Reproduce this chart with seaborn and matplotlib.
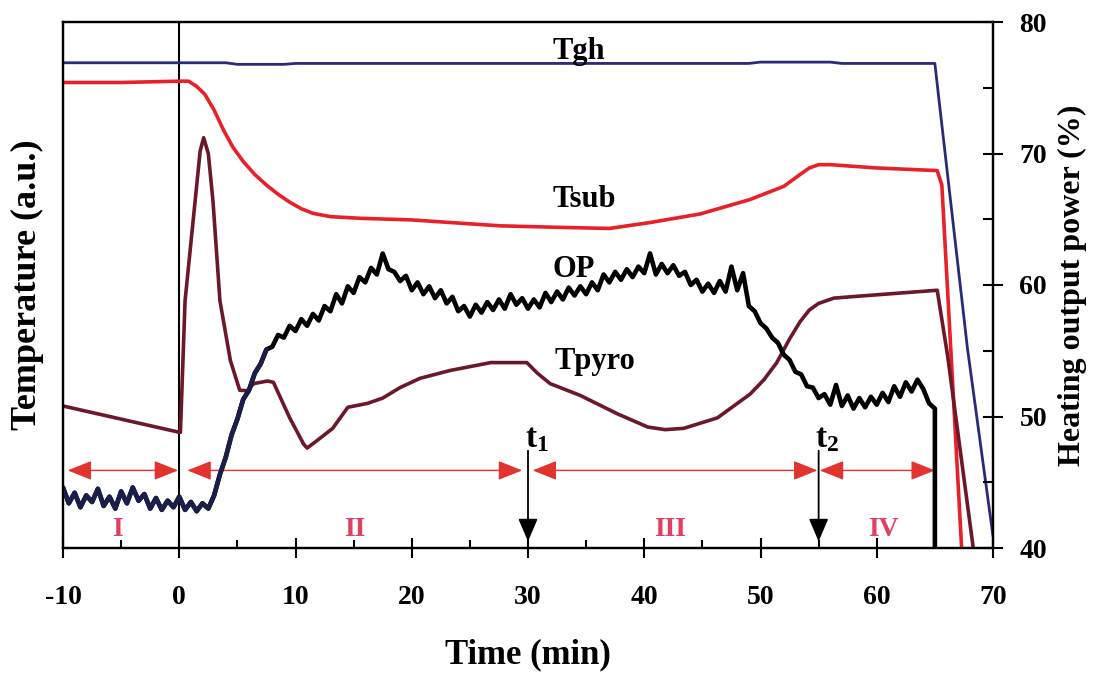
import numpy as np
import seaborn as sns
import matplotlib.pyplot as plt

# Tgh (gas heater temperature), a.u. plotted on the 40-80 scale
tgh_time = [-10, 0, 4, 5, 9, 10, 20, 30, 40, 49, 50, 56, 57, 65.0, 65.3, 67.8, 70]
tgh_vals = [76.9, 76.9, 76.9, 76.78, 76.78, 76.85, 76.85, 76.85, 76.85, 76.85, 76.95,
            76.95, 76.85, 76.85, 74.5, 55.2, 40.9]

# Tsub (substrate temperature)
tsub_time = [-10, -5, 0, 0.8, 1.5, 2.2, 3.0, 3.8, 4.6, 5.5, 6.5, 7.5, 8.5, 9.5, 10.5,
             11.5, 13.0, 15.6, 20.0, 22.5, 27.6, 32.0, 37.0, 40.5, 44.8, 49.1, 52.0,
             53.4, 54.2, 55.0, 56.0, 60.0, 65.2, 65.6, 67.3]
tsub_vals = [75.4, 75.4, 75.5, 75.5, 75.1, 74.5, 73.3, 71.8, 70.5, 69.4, 68.4, 67.6,
             66.9, 66.3, 65.8, 65.45, 65.2, 65.07, 64.95, 64.8, 64.5, 64.4, 64.3, 64.75,
             65.4, 66.5, 67.5, 68.4, 68.9, 69.15, 69.15, 68.9, 68.7, 67.6, 40.0]

# Tpyro (pyrometer temperature)
tpyro_time = [-10, -5, 0, 0.1, 0.5, 1.8, 2.1, 2.5, 2.9, 3.5, 4.4, 5.2, 5.85, 6.4, 7.6,
              8.1, 9.5, 10.7, 11.0, 11.9, 13.2, 14.5, 16.2, 17.5, 19.0, 20.7, 23.3, 26.8,
              29.9, 30.8, 31.9, 34.5, 37.7, 40.3, 41.8, 43.4, 46.3, 49.1, 50.3, 51.4,
              52.5, 53.4, 54.2, 55.0, 56.3, 57.7, 65.2, 66.1, 68.3]
tpyro_vals = [50.8, 49.8, 48.8, 48.8, 58.8, 70.2, 71.2, 70.0, 66.4, 58.8, 54.25, 52.0,
              51.96, 52.5, 52.7, 52.6, 49.9, 47.9, 47.6, 48.2, 49.1, 50.7, 51.0, 51.4,
              52.2, 52.9, 53.5, 54.1, 54.1, 53.3, 52.5, 51.6, 50.2, 49.2, 49.0, 49.1,
              49.9, 51.7, 52.8, 54.1, 55.9, 57.2, 58.1, 58.6, 59.0, 59.1, 59.6, 54.6, 40.0]

# OP (heating output power, %), read every 0.5 min from -10 to 65, then the cut-off
op_power = [
    44.6, 43.4, 44.2, 43.1, 44.0, 43.5, 44.5, 43.2, 43.9, 43.0,
    44.3, 43.4, 44.6, 43.6, 44.1, 43.0, 43.8, 42.9, 43.6, 43.1,
    43.9, 42.9, 43.5, 42.8, 43.4, 43.0, 44.0, 45.6, 46.9, 48.6,
    49.8, 51.3, 52.0, 53.3, 54.0, 55.1, 55.3, 56.2, 56.0, 56.9,
    56.5, 57.4, 56.9, 57.8, 57.3, 58.4, 58.0, 59.3, 58.6, 59.9,
    59.4, 60.6, 60.2, 61.3, 60.8, 62.4, 61.2, 61.0, 60.3, 60.7,
    59.6, 60.2, 59.3, 59.9, 59.0, 59.6, 58.6, 59.1, 58.0, 58.4,
    57.6, 58.5, 57.9, 58.7, 58.1, 58.9, 58.2, 59.3, 58.5, 59.0,
    58.2, 58.9, 58.3, 59.4, 58.7, 59.5, 58.9, 59.8, 59.2, 59.9,
    59.3, 60.2, 59.6, 60.8, 60.2, 61.0, 60.4, 61.2, 60.6, 61.4,
    60.9, 62.4, 60.8, 61.6, 60.9, 61.5, 60.7, 61.0, 60.0, 60.4,
    59.5, 60.1, 59.4, 60.3, 59.5, 61.4, 59.6, 60.9, 58.4, 58.0,
    57.1, 56.7, 56.0, 55.6, 54.7, 54.3, 53.4, 53.2, 52.3, 52.2,
    51.4, 51.7, 50.9, 52.4, 50.8, 51.6, 50.6, 51.4, 50.7, 51.5,
    50.9, 51.8, 51.1, 52.3, 51.5, 52.6, 51.9, 52.8, 52.1, 51.0,
    50.6, 40.0,
]
op_time = list(np.arange(-10, 65.25, 0.5)) + [65.0]
n_navy = 36  # first part of OP trace is drawn in dark blue

# stage boundaries and labels
stage_bounds = [(-9.6, -0.1), (0.7, 29.5), (30.4, 54.9), (55.1, 65.0)]
stage_names = ["I", "II", "III", "IV"]
stage_label_x = [-5.3, 15.1, 42.2, 60.6]
t_marks = [30, 55]
t_names = [r"$\mathbf{t_1}$", r"$\mathbf{t_2}$"]

sns.set_theme(style="ticks")
plt.rcParams['font.family'] = ['Liberation Serif', 'DejaVu Serif']
plt.rcParams['font.weight'] = 'bold'
plt.rcParams['axes.labelweight'] = 'bold'
plt.rcParams['axes.unicode_minus'] = False
plt.rcParams['mathtext.fontset'] = 'custom'
plt.rcParams['mathtext.bf'] = 'Liberation Serif:bold'
plt.rcParams['mathtext.rm'] = 'Liberation Serif:bold'
for key in ['text.color', 'axes.labelcolor', 'xtick.color', 'ytick.color']:
    plt.rcParams[key] = 'black'

fig = plt.figure(figsize=(10.96, 6.79), dpi=100)
ax = fig.add_axes([63 / 1096, 1 - 548 / 679, 930 / 1096, 526 / 679])

ax.axvline(0, color="black", lw=1.5, zorder=1)

kw = dict(ax=ax, sort=False, estimator=None, legend=False)
sns.lineplot(x=tgh_time, y=tgh_vals, color="#2a2a78", lw=2, **kw)
sns.lineplot(x=tsub_time, y=tsub_vals, color="#e8202a", lw=2.6, **kw)
sns.lineplot(x=tpyro_time, y=tpyro_vals, color="#6b1828", lw=2.6, **kw)

# stage arrows
for (a, b) in stage_bounds:
    ax.annotate("", xy=(b, 45.9), xytext=(a, 45.9),
                arrowprops=dict(arrowstyle="<|-|>,head_length=0.75,head_width=0.3",
                                color="#e2332f", lw=1.0, mutation_scale=20,
                                shrinkA=0, shrinkB=0), zorder=2)
for name, xl in zip(stage_names, stage_label_x):
    ax.text(xl, 40.9, name, fontsize=20, color="#e33f63", ha="center", va="baseline")

# t1 / t2 markers
for tm, tn in zip(t_marks, t_names):
    ax.annotate("", xy=(tm, 40.5), xytext=(tm, 47.4),
                arrowprops=dict(arrowstyle="-|>,head_length=0.7,head_width=0.3",
                                color="black", lw=1.3, mutation_scale=20,
                                shrinkA=0, shrinkB=0), zorder=3)
    ax.text(tm - 0.3, 47.64, tn, fontsize=24, ha="left", va="baseline")

sns.lineplot(x=op_time, y=op_power, color="black", lw=3.3, zorder=4, **kw)
sns.lineplot(x=op_time[:n_navy], y=op_power[:n_navy], color="#1b1d4a", lw=3.3,
             zorder=5, **kw)

# curve names
ax.text(32.1, 77.16, "Tgh", fontsize=22, ha="left", va="baseline")
ax.text(32.1, 65.93, "Tsub", fontsize=22, ha="left", va="baseline")
ax.text(32.1, 60.6, "OP", fontsize=22, ha="left", va="baseline")
ax.text(32.3, 53.6, "Tpyro", fontsize=22, ha="left", va="baseline")

ax.set_xlim(-10, 70)
ax.set_ylim(40, 80)
ax.set_xticks(range(-10, 71, 10))
ax.set_xticks(range(-5, 70, 10), minor=True)
ax.set_yticks([])
ax.tick_params(axis="x", which="major", direction="inout", length=14, width=1.5,
               labelsize=20, pad=20, color="black")
ax.tick_params(axis="x", which="minor", direction="in", length=6, width=1.5,
               color="black")
ax.set_xlabel("Time (min)", fontsize=25, labelpad=20)
ax.set_ylabel("Temperature (a.u.)", fontsize=26, labelpad=14)

ax2 = ax.twinx()
ax2.set_ylim(40, 80)
ax2.set_yticks(range(40, 81, 10))
ax2.set_yticks(range(45, 80, 10), minor=True)
ax2.tick_params(axis="y", which="major", direction="inout", length=14, width=1.5,
                labelsize=20, pad=12, color="black")
ax2.tick_params(axis="y", which="minor", direction="in", length=7, width=1.5,
                color="black")
ax2.set_ylabel("Heating output power (%)", fontsize=23, labelpad=8)

for a in (ax, ax2):
    for s in a.spines.values():
        s.set_color("black")
        s.set_linewidth(1.6)
    a.grid(False)

fig.savefig("out.png", dpi=100)
